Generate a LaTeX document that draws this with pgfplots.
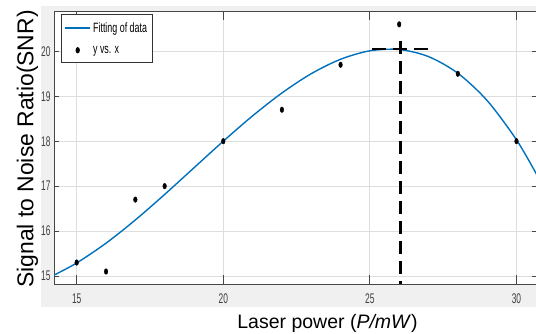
\documentclass[border=0pt]{standalone}
\usepackage{pgfplots}
\pgfplotsset{compat=1.18}
\usepackage{fontspec}
\setmainfont{Liberation Sans}
\newfontfamily\narrowfont[FakeStretch=0.6]{Liberation Sans}
\newfontfamily\legfont[FakeStretch=0.66]{Liberation Sans}
\definecolor{matblue}{RGB}{0,114,189}
\definecolor{figgray}{RGB}{240,240,240}
\definecolor{gridgray}{RGB}{222,222,222}
\definecolor{axgray}{RGB}{70,70,70}
\begin{document}
\begin{tikzpicture}[x=1pt,y=1pt]
\useasboundingbox (0,0) rectangle (536,333);
\fill[white] (0,0) rectangle (536,333);
\fill[figgray] (41,26) rectangle (536,327);
\begin{axis}[
  at={(54pt,49pt)}, anchor=south west,
  scale only axis, width=483pt, height=273pt,
  xmin=14.226, xmax=30.70, ymin=14.822, ymax=20.897,
  xtick={15,20,25,30}, ytick={15,16,17,18,19,20},
  tick align=inside, tick pos=both,
  xtick style={/pgfplots/major tick length=9pt},
  ytick style={/pgfplots/major tick length=5pt},
  grid=major, grid style={gridgray, line width=0.8pt},
  axis line style={axgray, line width=0.8pt},
  tick style={axgray, line width=0.8pt},
  axis background/.style={fill=white},
  ticklabel style={font=\narrowfont\fontsize{14}{14}\selectfont, text=black!75},
  /pgf/number format/assume math mode=true,
  xticklabel style={yshift=-6pt},
  legend style={at={(0.0145,0.988)}, anchor=north west, draw=black!80, line width=0.6pt,
    fill=white, font=\legfont\fontsize{13.5}{14}\selectfont, inner xsep=3pt, inner ysep=6pt,
    row sep=8pt, cells={anchor=west}},
]
\addplot[color=matblue, line width=1.4pt, smooth,
  legend image code/.code={\draw[matblue, line width=1.8pt] (0pt,0pt) -- (25pt,0pt);}]
coordinates {
(14.226,15.020) (15,15.290) (16,15.730) (17,16.247) (18,16.815) (19,17.408)
(20,18.000) (21,18.564) (22,19.073) (23,19.502) (24,19.823) (25,20.011)
(26,20.040) (27,19.882) (28,19.512) (29,18.904) (30,18.030) (30.70,17.246)
};
\addlegendentry{Fitting of data}
\addplot[only marks, mark=*, mark size=2.8pt, mark options={fill=black, draw=black, xscale=0.65},
  legend image code/.code={\fill[black] (12.5pt,0pt) ellipse [x radius=1.8pt, y radius=2.8pt];}]
coordinates {
(15,15.3) (16,15.1) (17,16.7) (18,17.0) (20,18.0) (22,18.7) (24,19.7) (26,20.6) (28,19.5) (30,18.0)
};
\addlegendentry{y vs. x}
\addplot[forget plot, black, line width=2.6pt, dash pattern=on 14pt off 7pt]
coordinates {(25.08,20.05) (27.03,20.05)};
\addplot[forget plot, black, line width=2.6pt, dash pattern=on 13pt off 7pt]
coordinates {(26.04,20.236) (26.04,14.822)};
\end{axis}
\node[rotate=90, anchor=base, font=\fontsize{22.9}{24}\selectfont] at (33.3,184) {Signal to Noise Ratio(SNR)};
\node[anchor=base, font=\fontsize{19.5}{20}\selectfont] at (327.5,4.5) {Laser power (\textit{P/mW})};
\end{tikzpicture}
\end{document}
